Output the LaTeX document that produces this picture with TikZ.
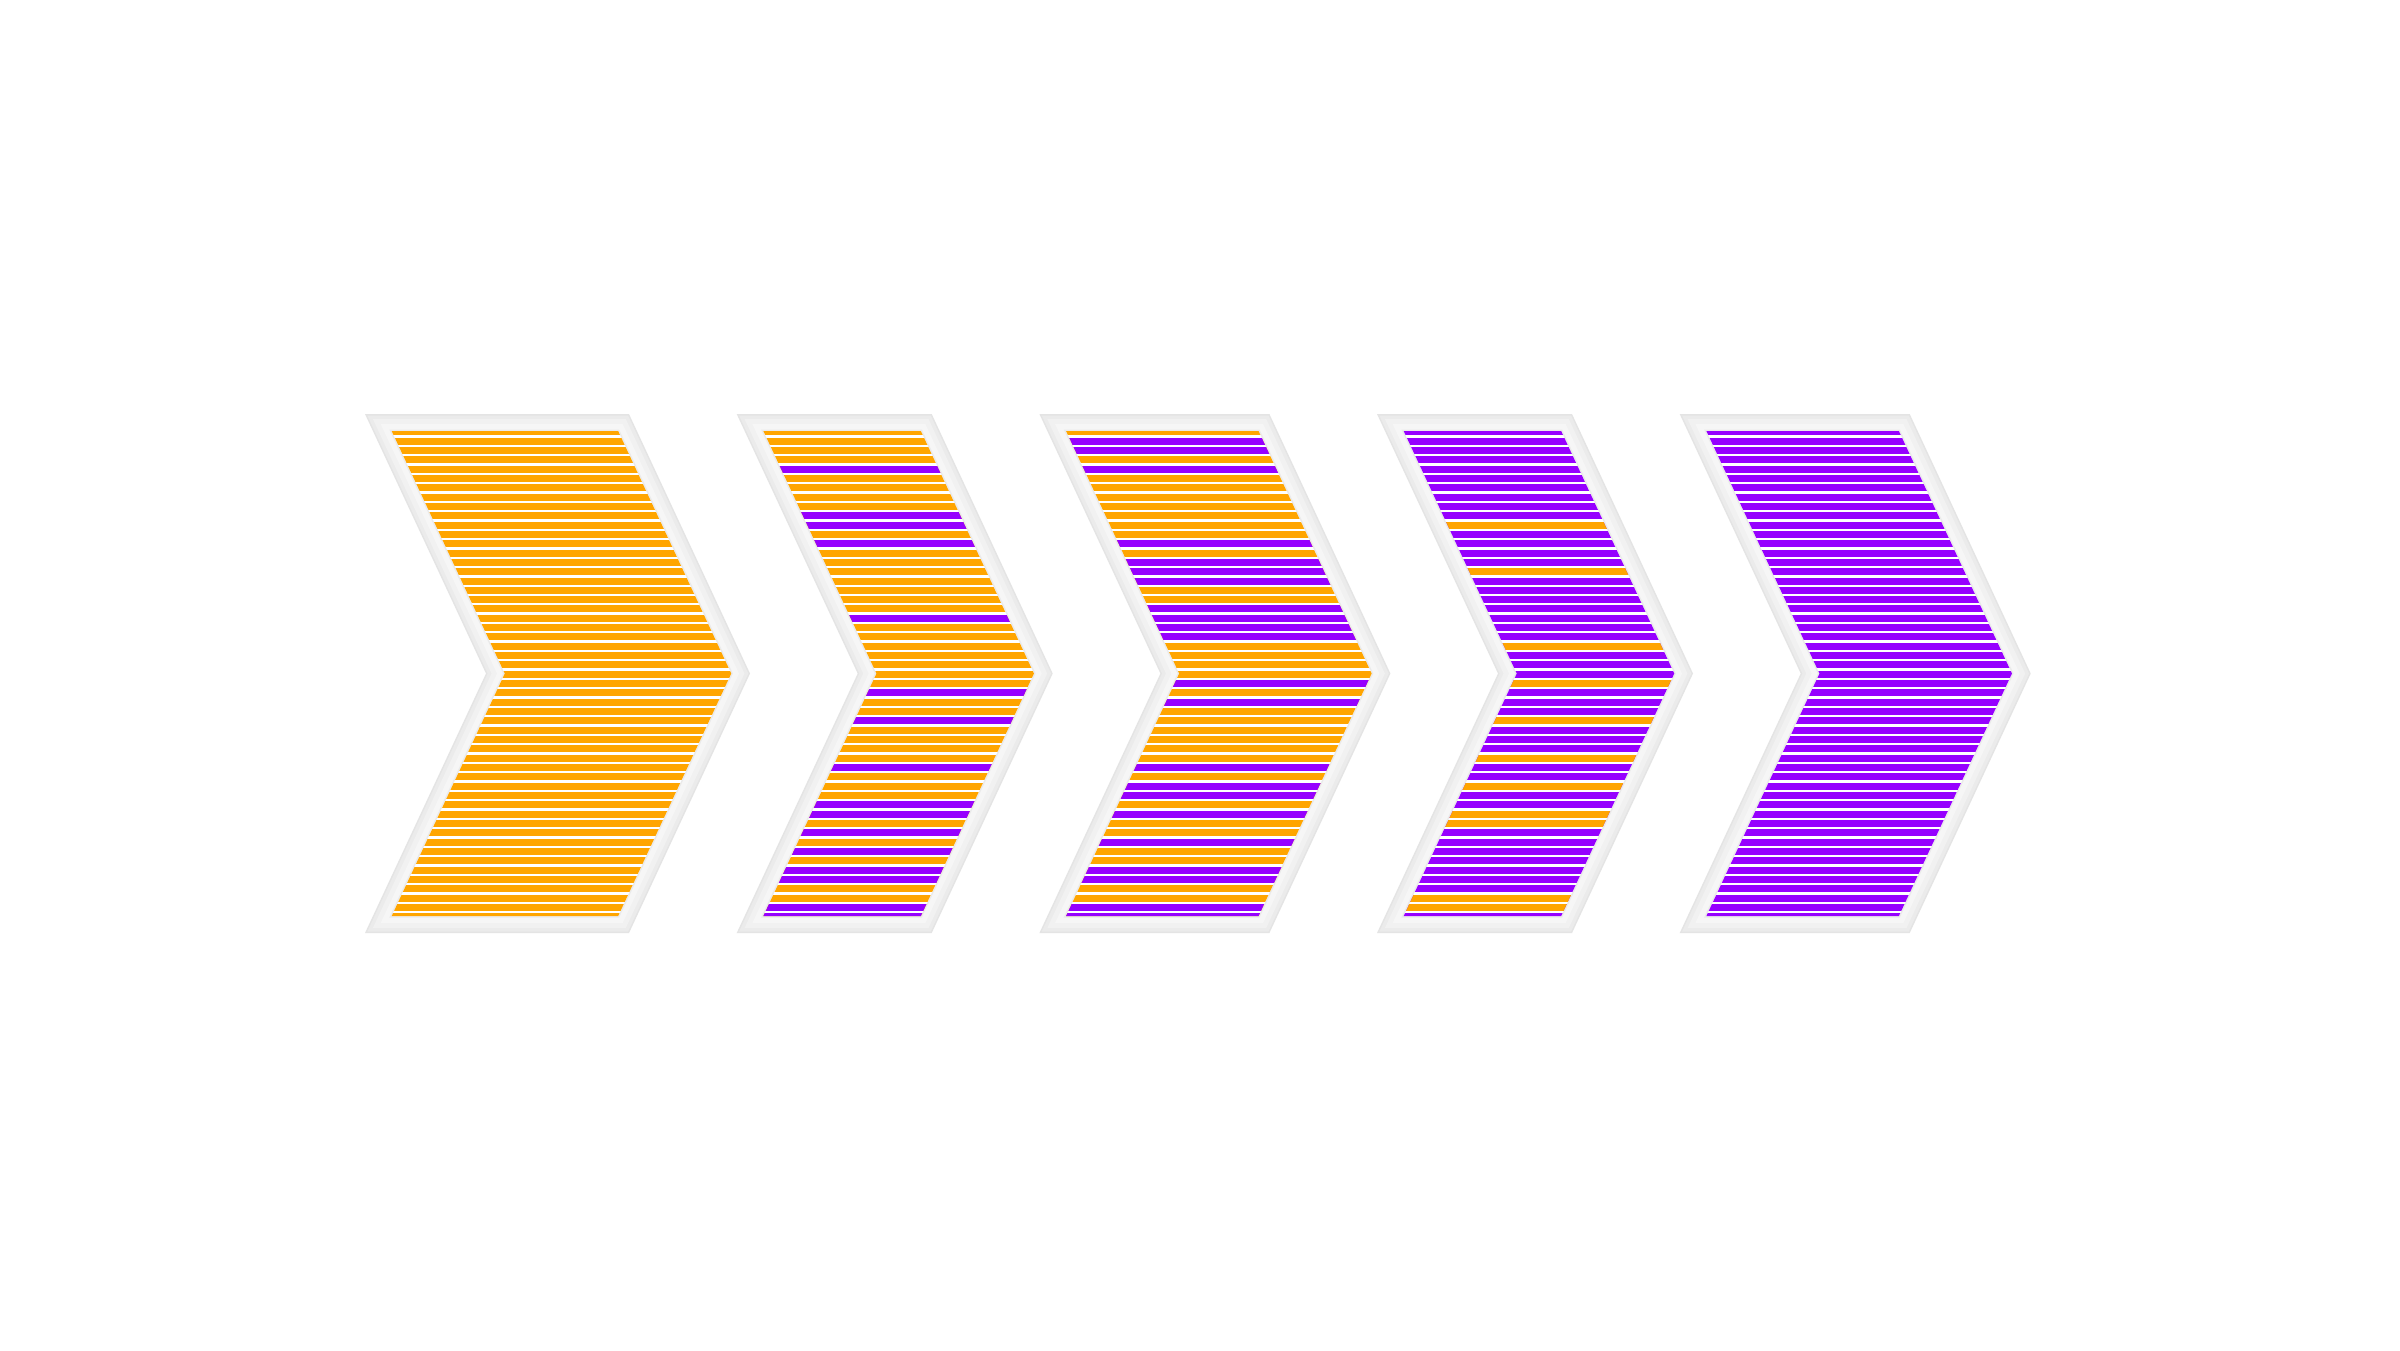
\documentclass[tikz,border=0pt]{standalone}
\definecolor{org}{HTML}{FFA500}
\definecolor{vio}{HTML}{9600FF}
\definecolor{fr0}{HTML}{E4E4E4}
\definecolor{fr1}{HTML}{EBEBEB}
\definecolor{fr2}{HTML}{F1F1F1}
\definecolor{fr3}{HTML}{F6F6F6}
\definecolor{fr4}{HTML}{EAEAEA}
% #1 = left x, #2 = top width, #3 = inset, #4 = fill options
\newcommand{\chevfill}[4]{\fill[#4] ({#1+1.569*#3},{414+#3}) -- ({#1+#2-0.637*#3},{414+#3}) -- ({#1+#2+121-1.103*#3},673.5) -- ({#1+#2-0.637*#3},{933-#3}) -- ({#1+1.569*#3},{933-#3}) -- ({#1+121+1.103*#3},673.5) -- cycle;}
\newcommand{\chevclip}[3]{\clip ({#1+1.569*#3},{414+#3}) -- ({#1+#2-0.637*#3},{414+#3}) -- ({#1+#2+121-1.103*#3},673.5) -- ({#1+#2-0.637*#3},{933-#3}) -- ({#1+1.569*#3},{933-#3}) -- ({#1+121+1.103*#3},673.5) -- cycle;}
\newcommand{\chevframe}[2]{%
  \chevfill{#1}{#2}{0}{fr0}
  \chevfill{#1}{#2}{1.5}{fr1}
  \chevfill{#1}{#2}{5}{fr2}
  \chevfill{#1}{#2}{10}{fr3}
  \chevfill{#1}{#2}{15.5}{fr4}
}
% #1 = left, #2 = width, #3 = base colour
\newcommand{\chvbase}[3]{%
  \begin{scope}
    \chevclip{#1}{#2}{17}
    \fill[white] (#1,400) rectangle ({#1+#2+130},950);
    \foreach \k in {0,...,52} {\fill[#3] (#1,{428.2+9.33*\k}) rectangle ({#1+#2+130},{435.2+9.33*\k});}
  \end{scope}}
% #1 = left, #2 = width, #3 = overlay colour, #4 = list
\newcommand{\chvover}[4]{%
  \begin{scope}
    \chevclip{#1}{#2}{17}
    \foreach \k in {#4} {\fill[#3] (#1,{428.2+9.33*\k}) rectangle ({#1+#2+130},{435.2+9.33*\k});}
  \end{scope}}
\begin{document}
\begin{tikzpicture}[x=0.01cm,y=-0.01cm]
\useasboundingbox (0,0) rectangle (2400,1350);
\fill[white] (0,0) rectangle (2400,1350);
% chevron 1
\chevframe{365}{264}
\chvbase{365}{264}{org}
% chevron 2
\chevframe{736.7}{195}
\chvbase{736.7}{195}{org}
\chvover{736.7}{195}{vio}{4,9,10,12,20,28,31,36,40,41,43,45,47,48,51,52}
% chevron 3
\chevframe{1039.4}{230}
\chvbase{1039.4}{230}{org}
\chvover{1039.4}{230}{vio}{1,2,4,12,14,15,16,19,20,21,22,27,29,36,38,39,41,44,47,48,51,52}
% chevron 4
\chevframe{1377}{195}
\chvbase{1377}{195}{vio}
\chvover{1377}{195}{org}{10,15,23,27,31,35,38,41,42,50,51}
% chevron 5
\chevframe{1679.7}{230}
\chvbase{1679.7}{230}{vio}
\end{tikzpicture}
\end{document}
